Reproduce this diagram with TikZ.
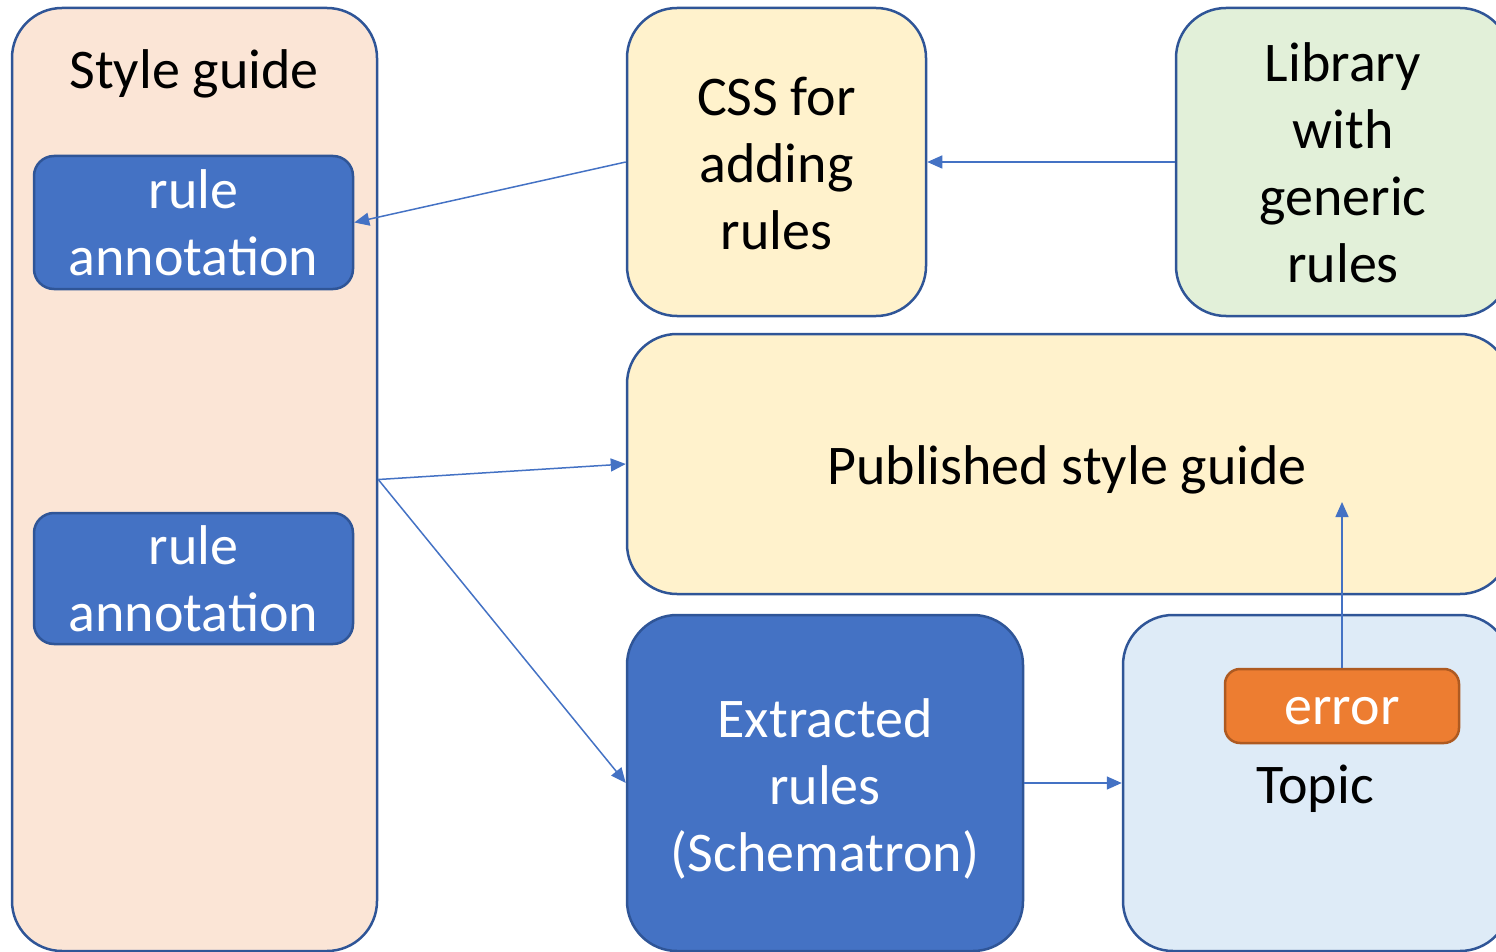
\documentclass[tikz,border=0pt]{standalone}
\usepackage{fontspec}
\setmainfont{Carlito}
\usetikzlibrary{arrows.meta}
\definecolor{peach}{HTML}{FBE5D6}
\definecolor{paleyellow}{HTML}{FFF2CC}
\definecolor{palegreen}{HTML}{E2F0D9}
\definecolor{paleblue}{HTML}{DEEBF7}
\definecolor{accblue}{HTML}{4472C4}
\definecolor{accorange}{HTML}{ED7D31}
\definecolor{bordblue}{HTML}{2F5597}
\definecolor{bordorange}{HTML}{AE5A21}
\tikzset{
  box/.style={draw=bordblue, line width=2.5pt, rounded corners=50pt, inner sep=0pt},
  smallbox/.style={box, rounded corners=20pt, fill=accblue},
  txt/.style={inner sep=0pt, align=center, font=\fontsize{56}{67}\selectfont},
  wtxt/.style={txt, text=white},
  conn/.style={draw=accblue, line width=1.5pt, -{Triangle[length=15pt,width=13pt]}},
}
\begin{document}
\begin{tikzpicture}[x=1pt,y=-1pt]
\path[use as bounding box] (0,0) rectangle (1496,952);
\clip (0,0) rectangle (1496,952);
% left style guide
\node[box, fill=peach, minimum width=365pt, minimum height=943pt] (sg) at (194.5,479.5) {};
\node[txt] (sgt) at (194,74) {Style guide};
\node[smallbox, minimum width=319pt, minimum height=133pt] (ra1) at (193.5,222.5) {};
\node[wtxt] (ra1t) at (ra1.center) {rule\\annotation};
\node[smallbox, minimum width=319pt, minimum height=131pt] (ra2) at (193.5,578.5) {};
\node[wtxt] (ra2t) at (ra2.center) {rule\\annotation};
% top row
\node[box, fill=paleyellow, minimum width=299pt, minimum height=308pt] (css) at (776.5,162) {};
\node[txt] (csst) at ([yshift=-2pt]css.center) {CSS for\\adding\\rules};
\node[box, fill=palegreen, minimum width=334pt, minimum height=308pt] (lib) at (1343,162) {};
\node[txt] (libt) at ([yshift=-1pt]lib.center) {Library\\with\\generic\\rules};
% published
\node[box, fill=paleyellow, minimum width=883pt, minimum height=260pt] (pub) at (1068.5,464) {};
\node[txt] (pubt) at (1067,470) {Published style guide};
% bottom row
\node[box, fill=accblue, minimum width=396pt, minimum height=336pt] (ext) at (825,783) {};
\node[wtxt] (extt) at ([yshift=-5.5pt]ext.center) {Extracted\\rules\\(Schematron)};
\node[box, fill=paleblue, minimum width=387pt, minimum height=336pt] (topic) at (1316.5,783) {};
\node[txt] (topict) at (1315,789) {Topic};
\node[box, draw=bordorange, fill=accorange, rounded corners=15pt, minimum width=234pt, minimum height=74pt] (err) at (1342,706) {};
\node[wtxt] (errt) at ([yshift=-5pt]err.center) {error};
\coordinate (pubin) at (1342,502);
% connectors
\draw[conn] (css.west) -- (ra1.east);
\draw[conn] (lib.west) -- (css.east);
\draw[conn] (sg.east) -- (pub.west);
\draw[conn] (sg.east) -- (ext.west);
\draw[conn] (ext.east) -- (topic.west);
\draw[conn] (err.north) -- (pubin);
\end{tikzpicture}
\end{document}
